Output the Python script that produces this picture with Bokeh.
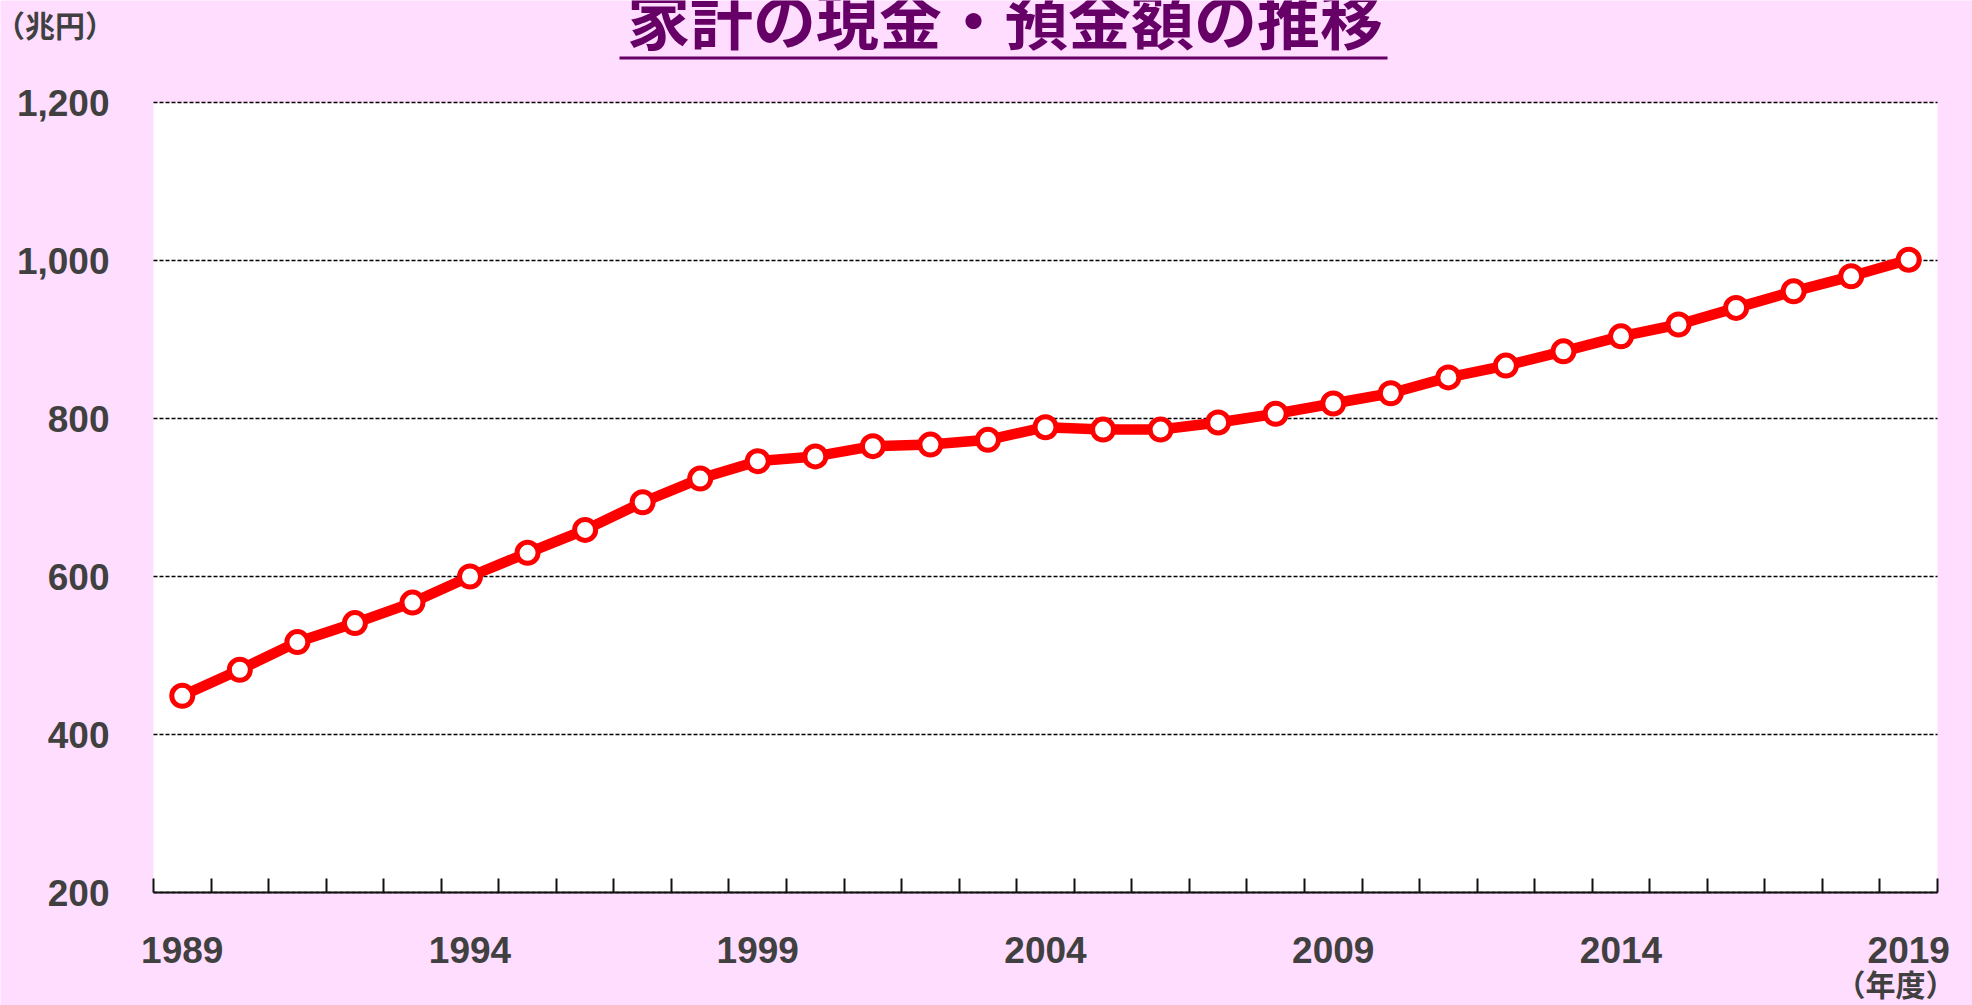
from bokeh.plotting import figure
from bokeh.models import FixedTicker, NumeralTickFormatter, Label, BoxAnnotation, Range1d
from bokeh.embed import file_html
from bokeh.resources import INLINE

# ---- data ----
years = list(range(1989, 2020))
deposits = [449, 482, 517, 541, 567, 600, 630, 659, 694, 724, 746, 752, 765, 767,
            773, 789, 786, 786, 795, 806, 819, 832, 852, 867, 885, 904, 919, 940,
            961, 980, 1001]
y_ticks = [200, 400, 600, 800, 1000, 1200]
x_label_years = [1989, 1994, 1999, 2004, 2009, 2014, 2019]
title_text = "家計の現金・預金額の推移"
y_unit_text = "（兆円）"
x_unit_text = "（年度）"

# ---- layout (canvas px) ----
W, H = 1972, 1005
PLOT_L, PLOT_R, PLOT_T, PLOT_B = 153, 1937, 102, 892   # white plotting area on canvas
PINK = "#FFDDFF"
PURPLE = "#660066"
GRAY = "#404040"

x_lo, x_hi = years[0] - 0.5, years[-1] + 0.5
y_lo, y_hi = min(y_ticks), max(y_ticks)
ppx = (PLOT_R - PLOT_L) / (x_hi - x_lo)
ppu = (PLOT_B - PLOT_T) / (y_hi - y_lo)
x_start = x_lo - PLOT_L / ppx
x_end = x_hi + (W - PLOT_R) / ppx
y_start = y_lo - (H - PLOT_B) / ppu
y_end = y_hi + PLOT_T / ppu


def dx(cx):
    return x_start + cx / ppx


def dy(cy):
    return y_end - cy / ppu


p = figure(width=W, height=H, output_backend="svg", toolbar_location=None,
           title=None,
           x_range=Range1d(x_start, x_end), y_range=Range1d(y_start, y_end),
           min_border_left=0, min_border_right=0,
           min_border_top=0, min_border_bottom=0)
p.background_fill_color = PINK
p.border_fill_color = PINK
p.outline_line_color = None

# white plotting area
p.add_layout(BoxAnnotation(left=x_lo, right=x_hi, bottom=y_lo, top=y_hi,
                           fill_color="white", fill_alpha=1.0, line_color=None,
                           level="image"))

# x axis (drawn at y = 200)
p.xaxis.fixed_location = y_lo
p.xaxis.bounds = (x_lo, x_hi)
p.xaxis.ticker = FixedTicker(ticks=x_label_years,
                             minor_ticks=[y - 0.5 for y in years] + [x_hi])
p.xaxis.major_tick_in = 0
p.xaxis.major_tick_out = 0
p.xaxis.minor_tick_in = 14
p.xaxis.minor_tick_out = 0
p.xaxis.minor_tick_line_color = "#111111"
p.xaxis.minor_tick_line_width = 2
p.xaxis.axis_line_color = "#111111"
p.xaxis.axis_line_width = 2
p.xaxis.major_label_text_font = "Liberation Sans"
p.xaxis.major_label_text_font_style = "bold"
p.xaxis.major_label_text_font_size = "37px"
p.xaxis.major_label_text_color = GRAY
p.xaxis.major_label_standoff = 44

# y axis (drawn at left edge of plotting area)
p.yaxis.fixed_location = x_lo
p.yaxis.bounds = (y_lo, y_hi)
p.yaxis.ticker = FixedTicker(ticks=y_ticks)
p.yaxis.formatter = NumeralTickFormatter(format="0,0")
p.yaxis.axis_line_color = None
p.yaxis.major_tick_line_color = None
p.yaxis.minor_tick_line_color = None
p.yaxis.major_label_text_font = "Liberation Sans"
p.yaxis.major_label_text_font_style = "bold"
p.yaxis.major_label_text_font_size = "37px"
p.yaxis.major_label_text_color = GRAY
p.yaxis.major_label_standoff = 38

# grids
p.xgrid.grid_line_color = None
p.ygrid.ticker = FixedTicker(ticks=y_ticks)
p.ygrid.grid_line_color = "#000000"
p.ygrid.grid_line_dash = "4 2"
p.ygrid.grid_line_width = 1.7
try:
    p.ygrid.cross_bounds = (x_lo, x_hi)
except Exception:
    for l, r in ((x_start, x_lo), (x_hi, x_end)):
        p.add_layout(BoxAnnotation(left=l, right=r, bottom=y_lo - 20, top=y_hi + 20,
                                   fill_color=PINK, fill_alpha=1.0, line_color=None,
                                   level="underlay"))

# series
p.line(years, deposits, line_color="#FF0000", line_width=10.5, line_join="round")
p.scatter(years, deposits, size=21, fill_color="white", line_color="#FF0000",
          line_width=5)

# title + underline
p.add_layout(Label(x=dx(1004.5), y=dy(15.5), text=title_text,
                   text_font="Noto Sans CJK JP", text_font_style="bold",
                   text_font_size="63px", text_color=PURPLE,
                   text_align="center", text_baseline="middle"))
p.add_layout(BoxAnnotation(left=dx(619), right=dx(1387), top=dy(56), bottom=dy(59),
                           fill_color=PURPLE, fill_alpha=1.0, line_color=None))

# unit labels
p.add_layout(Label(x=dx(54.5), y=dy(23.5), text=y_unit_text,
                   text_font="Noto Sans CJK JP", text_font_style="bold",
                   text_font_size="30px", text_color=GRAY,
                   text_align="center", text_baseline="middle"))
p.add_layout(Label(x=dx(1895), y=dy(982.5), text=x_unit_text,
                   text_font="Noto Sans CJK JP", text_font_style="bold",
                   text_font_size="30px", text_color=GRAY,
                   text_align="center", text_baseline="middle"))

open("out.html", "w").write(file_html(p, INLINE))
